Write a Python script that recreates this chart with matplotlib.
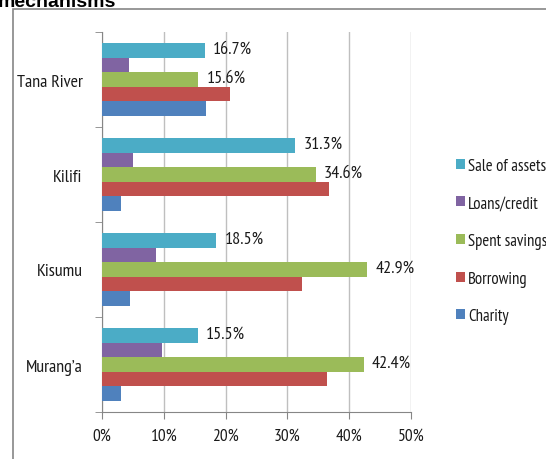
import matplotlib
matplotlib.use("Agg")
import matplotlib.pyplot as plt
import numpy as np
from matplotlib.patches import Rectangle

plt.rcParams['font.family'] = ['PT Sans Narrow', 'DejaVu Sans']

counties = ["Murang’a", "Kisumu", "Kilifi", "Tana River"]
series = ["Charity", "Borrowing", "Spent savings", "Loans/credit", "Sale of assets"]
colors = ["#4F81BD", "#C0504D", "#9BBB59", "#8064A2", "#4BACC6"]
charity = [3.0, 4.5, 3.0, 16.8]
borrowing = [36.4, 32.4, 36.7, 20.7]
spent_savings = [42.4, 42.9, 34.6, 15.6]
loans_credit = [9.7, 8.8, 5.0, 4.4]
sale_of_assets = [15.5, 18.5, 31.3, 16.7]
values = [charity, borrowing, spent_savings, loans_credit, sale_of_assets]
labelled = ["Spent savings", "Sale of assets"]
xticks = [0, 10, 20, 30, 40, 50]

fig = plt.figure(figsize=(5.46, 4.6), dpi=100)
ax = fig.add_axes([102/546, 1-413/460, 309/546, 380/460])

y = np.arange(len(counties))
h = 0.153
for i, (name, vals, c) in enumerate(zip(series, values, colors)):
    pos = y + (i - 2) * h
    ax.barh(pos, vals, height=h, color=c, label=name, zorder=3)
    if name in labelled:
        for p, v in zip(pos, vals):
            ax.text(v + 1.3, p + 0.02, f"{v:.1f}%", va='center', ha='left',
                    fontsize=13, color='#1a1a1a', zorder=4)

ax.set_xlim(0, 50)
ax.set_ylim(-0.5, len(counties) - 0.5)
ax.set_xticks(xticks)
ax.set_xticklabels([f"{t}%" for t in xticks], fontsize=12.5, color='#1a1a1a')
ax.set_yticks(y)
ax.set_yticklabels(counties, fontsize=13, color='#1a1a1a')
ax.set_yticks(np.arange(-0.5, len(counties)), minor=True)
ax.tick_params(axis='y', which='major', length=0, pad=14)
ax.tick_params(axis='y', which='minor', length=5, color='#868686')
ax.tick_params(axis='x', length=5, color='#868686', pad=6)
ax.grid(axis='x', color='#BFBFBF', linewidth=1, zorder=0)
for s in ['top', 'right']:
    ax.spines[s].set_visible(False)
for s in ['left', 'bottom']:
    ax.spines[s].set_color('#868686')

handles, labels = ax.get_legend_handles_labels()
fig.legend(handles[::-1], labels[::-1], loc='upper left',
           bbox_to_anchor=(449/546, 1-152/460), frameon=False, fontsize=12,
           handlelength=0.55, handleheight=0.55, handletextpad=0.2,
           labelspacing=1.3, borderaxespad=0, labelcolor='#1a1a1a')

fig.patches.append(Rectangle((13/546, -0.1), 1.2, 1-10/460+0.1, transform=fig.transFigure,
                             fill=False, edgecolor='#868686', linewidth=1.2))
fig.text(-2/546, 1-7/460, "mechanisms", fontsize=14, fontweight='bold',
         family='Liberation Sans', va='baseline', ha='left')

fig.savefig("out.png", dpi=100)
